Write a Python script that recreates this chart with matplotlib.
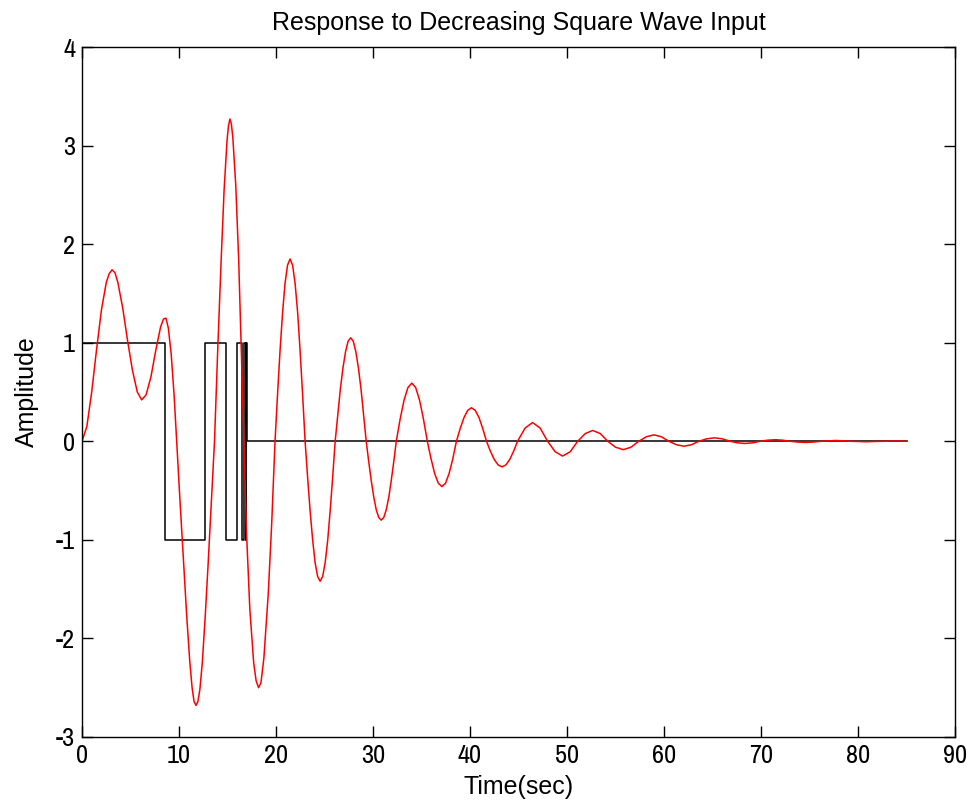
import numpy as np
import matplotlib
matplotlib.use("Agg")
import matplotlib.pyplot as plt

plt.rcParams['font.family'] = ['Liberation Sans Narrow', 'Archivo Narrow', 'DejaVu Sans']
plt.rcParams['axes.unicode_minus'] = False
label_font = ['Liberation Sans', 'DejaVu Sans']

# input: decreasing square wave (switch times and levels, step 'post')
u_t = [0, 8.55, 12.7, 14.85, 16.0, 16.5, 16.75, 16.87, 16.93, 16.97, 85.0]
u_v = [1, -1, 1, -1, 1, -1, 1, -1, 1, 0, 0]

# response
y_t = [0.0, 0.5, 1.0, 1.5, 2.0, 2.5, 2.8, 3.1, 3.4, 3.7, 4.2, 4.7, 5.2, 5.7, 6.15,
       6.6, 7.1, 7.6, 8.1, 8.4, 8.65, 8.9, 9.2, 9.5, 9.76,
       10.1, 10.4, 10.8, 11.1, 11.35, 11.55, 11.75, 11.95, 12.15, 12.4, 12.7, 13.0, 13.3, 13.66,
       14.0, 14.35, 14.65, 14.95, 15.1, 15.25, 15.4, 15.55, 15.85, 16.15, 16.4, 16.65,
       16.97, 17.3, 17.7, 17.95, 18.2, 18.45, 18.75, 19.2, 19.55, 19.9,
       20.16, 20.42, 20.68, 20.93, 21.19, 21.45, 21.71, 21.97, 22.23, 22.48, 22.74, 23.0,
       23.26, 23.52, 23.78, 24.03, 24.29, 24.55, 24.81, 25.07, 25.33, 25.58, 25.84, 26.1,
       26.37, 26.63, 26.9, 27.17, 27.43, 27.7, 27.97, 28.23, 28.5, 28.77, 29.03, 29.3,
       29.56, 29.82, 30.08, 30.33, 30.59, 30.85, 31.11, 31.37, 31.63, 31.88, 32.14, 32.4,
       32.8, 33.2, 33.6, 34.0, 34.4, 34.8, 35.2, 35.6,
       35.98, 36.35, 36.73, 37.1, 37.48, 37.85, 38.23, 38.6,
       38.99, 39.38, 39.76, 40.15, 40.54, 40.93, 41.31, 41.7,
       42.1, 42.5, 42.9, 43.3, 43.7, 44.1, 44.5, 44.9,
       45.68, 46.45, 47.23, 48.0, 48.78, 49.55, 50.33, 51.1,
       51.88, 52.65, 53.43, 54.2, 55.0, 55.8, 56.6, 57.4,
       58.18, 58.95, 59.73, 60.5, 61.28, 62.05, 62.83, 63.6,
       64.4, 65.2, 66.0, 66.8, 67.58, 68.35, 69.13, 69.9,
       70.68, 71.45, 72.23, 73.0, 73.8, 74.6, 75.4, 76.2,
       77.75, 79.3, 80.85, 82.4, 84.0, 85.0]
y_v = [0.0, 0.15, 0.5, 0.93, 1.33, 1.61, 1.7, 1.74, 1.71, 1.61, 1.35, 1.02, 0.72, 0.5, 0.42,
       0.47, 0.65, 0.92, 1.16, 1.24, 1.25, 1.15, 0.88, 0.46, 0.0,
       -0.6, -1.1, -1.78, -2.22, -2.5, -2.64, -2.68, -2.64, -2.52, -2.25, -1.78, -1.25, -0.68, 0.0,
       0.95, 1.85, 2.55, 3.05, 3.2, 3.27, 3.22, 3.08, 2.6, 1.85, 1.0, 0.15,
       -0.95, -1.7, -2.25, -2.43, -2.5, -2.45, -2.2, -1.55, -0.85, 0.0,
       0.479, 0.925, 1.308, 1.602, 1.787, 1.85, 1.787, 1.602, 1.308, 0.925, 0.479, 0.0,
       -0.368, -0.71, -1.004, -1.23, -1.372, -1.42, -1.372, -1.23, -1.004, -0.71, -0.368, 0.0,
       0.272, 0.525, 0.742, 0.909, 1.014, 1.05, 1.014, 0.909, 0.742, 0.525, 0.272, 0.0,
       -0.207, -0.4, -0.566, -0.693, -0.773, -0.8, -0.773, -0.693, -0.566, -0.4, -0.207, 0.0,
       0.226, 0.417, 0.545, 0.59, 0.545, 0.417, 0.226, 0.0,
       -0.176, -0.325, -0.425, -0.46, -0.425, -0.325, -0.176, 0.0,
       0.13, 0.24, 0.314, 0.34, 0.314, 0.24, 0.13, 0.0,
       -0.1, -0.184, -0.24, -0.26, -0.24, -0.184, -0.1, 0.0,
       0.134, 0.19, 0.134, 0.0, -0.106, -0.15, -0.106, 0.0,
       0.078, 0.11, 0.078, 0.0, -0.06, -0.085, -0.06, 0.0,
       0.046, 0.065, 0.046, 0.0, -0.035, -0.05, -0.035, 0.0,
       0.025, 0.035, 0.025, 0.0, -0.016, -0.022, -0.016, 0.0,
       0.011, 0.016, 0.011, 0.0, -0.008, -0.012, -0.008, 0.0,
       0.008, 0.0, -0.005, 0.0, 0.003, 0.0]

fig = plt.figure(figsize=(9.67, 8.11), dpi=100)
ax = fig.add_axes([0.0848, 0.0913, 0.9028, 0.8507])

ax.step(u_t, u_v, where='post', color='black', linewidth=1.1)
ax.plot(y_t, y_v, color='red', linewidth=1.1)

ax.set_xlim(0, 90)
ax.set_ylim(-3, 4)
ax.set_xticks(np.arange(0, 91, 10))
ax.set_yticks(np.arange(-3, 5, 1))
ax.tick_params(direction='in', length=8, width=1, top=True, right=True,
               labelsize=19, pad=5)
for s in ax.spines.values():
    s.set_linewidth(1)

ax.set_title("Response to Decreasing Square Wave Input", fontsize=18, pad=12,
             family=label_font)
ax.set_xlabel("Time(sec)", fontsize=18, labelpad=6, family=label_font)
ax.set_ylabel("Amplitude", fontsize=18, labelpad=12, family=label_font)

fig.savefig("out.png", dpi=100)
